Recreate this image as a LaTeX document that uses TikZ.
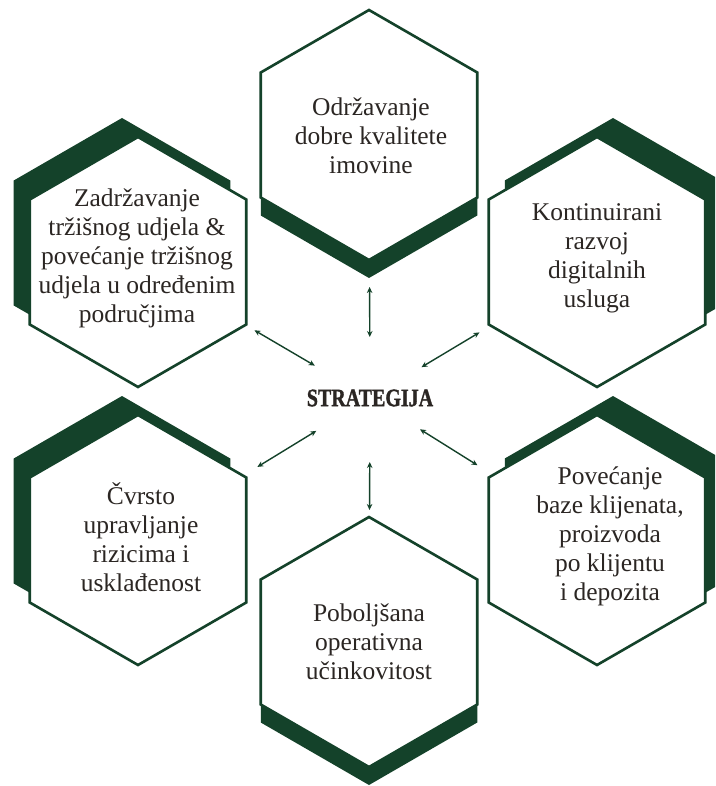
\documentclass[tikz,border=0pt]{standalone}
\usepackage{fontspec}
\setmainfont{Liberation Serif}
\newfontfamily\stratfont[FakeBold=1.5]{Liberation Serif}
\usepackage{graphicx}
\usetikzlibrary{shapes.geometric,arrows.meta,shadows}
\definecolor{hexgreen}{HTML}{14422A}
\definecolor{txt}{HTML}{2B2623}
\begin{document}
\begin{tikzpicture}[x=1pt,y=-1pt,
  hexbox/.style={regular polygon, regular polygon sides=6, shape border rotate=30,
    minimum size=250pt, inner sep=0pt, outer sep=0pt, draw=hexgreen, line width=2.6pt, fill=white},
  shUL/.style={general shadow={fill=hexgreen, shadow xshift=-16pt, shadow yshift=19pt}},
  shUR/.style={general shadow={fill=hexgreen, shadow xshift=16pt, shadow yshift=19pt}},
  shDN/.style={general shadow={fill=hexgreen, shadow xshift=0pt, shadow yshift=-18pt}},
  hextext/.style={align=center, text=txt, font=\fontsize{25.5}{29}\selectfont, inner sep=0pt},
  link/.style={draw=hexgreen, line width=1.4pt, {Stealth[length=6pt,width=5.5pt]}-{Stealth[length=6pt,width=5.5pt]}}]
\useasboundingbox (0,0) rectangle (715,786);
\clip (0,0) rectangle (715,786);
\fill[white] (0,0) rectangle (715,786);

\node[hexbox, shDN] (h1) at (369,135) {};
\node[hexbox, shUR] (h2) at (597,262) {};
\node[hexbox, shUR] (h3) at (597,540) {};
\node[hexbox, shDN] (h4) at (369,642) {};
\node[hexbox, shUL] (h5) at (138,540) {};
\node[hexbox, shUL] (h6) at (138,262) {};

\node[hextext] (t1) at (371,136) {Održavanje\\dobre kvalitete\\imovine};
\node[hextext] (t2) at (597,258) {Kontinuirani\\razvoj\\digitalnih\\usluga};
\node[hextext] (t3) at (610,536) {Povećanje\\baze klijenata,\\proizvoda\\po klijentu\\i depozita};
\node[hextext] (t4) at (369,642) {Poboljšana\\operativna\\učinkovitost};
\node[hextext] (t5) at (141,537) {Čvrsto\\upravljanje\\rizicima i\\usklađenost};
\node[hextext] (t6) at (137,258) {Zadržavanje\\tržišnog udjela \&\\povećanje tržišnog\\udjela u određenim\\područjima};

\node[text=txt, inner sep=0pt] (c) at (370,398)
  {\scalebox{0.8}[1]{\stratfont\bfseries\fontsize{25}{25}\selectfont STRATEGIJA}};

\draw[link, shorten <=61pt, shorten >=152pt] (c.center) -- (h1.center);
\draw[link, shorten <=60pt, shorten >=137pt] (c.center) -- (h2.center);
\draw[link, shorten <=59pt, shorten >=141pt] (c.center) -- (h3.center);
\draw[link, shorten <=64pt, shorten >=132pt] (c.center) -- (h4.center);
\draw[link, shorten <=63pt, shorten >=140pt] (c.center) -- (h5.center);
\draw[link, shorten <=64pt, shorten >=135pt] (c.center) -- (h6.center);
\end{tikzpicture}
\end{document}
